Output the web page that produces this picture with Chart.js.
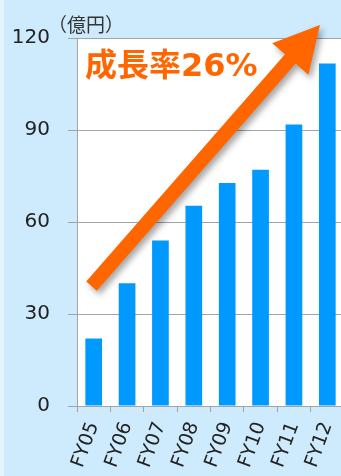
<!DOCTYPE html>
<html>
<head>
<meta charset="utf-8">
<script src="https://cdn.jsdelivr.net/npm/chart.js@4/dist/chart.umd.min.js"></script>
<style>
html,body{margin:0;padding:0;overflow:hidden;background:#cdebfc;width:341px;height:476px;}
#wrap{position:absolute;left:0;top:0;width:344px;height:476px;}
</style>
</head>
<body>
<div id="wrap"><canvas id="c" width="344" height="476"></canvas></div>
<script>
const categories = ["FY05","FY06","FY07","FY08","FY09","FY10","FY11","FY12"];
const sales = [22, 40, 54, 65.3, 72.7, 77, 91.8, 111.7];
const yTicks = [0, 30, 60, 90, 120];
const unitLabel = "（億円）";
const growthLabel = "成長率26%";

const BG = "#cdebfc";
const GRID = "#a3a3a3";
const BAR = "#0099ff";
const ORANGE = "#ff6600";

const decor = {
  id: "decor",
  beforeDraw(chart) {
    const ctx = chart.ctx, a = chart.chartArea;
    ctx.save();
    ctx.fillStyle = BG;
    ctx.fillRect(0, 0, chart.width, chart.height);
    ctx.fillStyle = "#e3f4fd";
    ctx.fillRect(0, 0, 4, chart.height);
    ctx.fillStyle = "#ffffff";
    ctx.fillRect(a.left, a.top, a.right - a.left, a.bottom - a.top);
    ctx.restore();
  },
  afterDraw(chart) {
    const ctx = chart.ctx, a = chart.chartArea;
    const y = chart.scales.y;
    const cw = (a.right - a.left) / categories.length;
    const px = i => a.left + (i + 0.5) * cw;
    ctx.save();
    // unit label
    ctx.fillStyle = "#333333";
    ctx.font = "19px 'Noto Sans CJK JP'";
    ctx.textBaseline = "alphabetic";
    ctx.textAlign = "left";
    ctx.fillText(unitLabel, 48, 32);
    // arrow
    const tx = px(-0.066), ty = y.getPixelForValue(39.1);
    const hx = px(6.78), hy = y.getPixelForValue(124.2);
    const dx = hx - tx, dy = hy - ty, L = Math.hypot(dx, dy);
    const ux = dx / L, uy = dy / L, nx = -uy, ny = ux;
    const hw = 7, headLen = 45, headHalf = 24;
    const bx = hx - ux * headLen, by = hy - uy * headLen;
    ctx.shadowColor = "rgba(0,0,0,0.35)";
    ctx.shadowBlur = 6;
    ctx.shadowOffsetX = 3;
    ctx.shadowOffsetY = 4;
    ctx.fillStyle = ORANGE;
    ctx.beginPath();
    ctx.moveTo(tx + nx * hw, ty + ny * hw);
    ctx.lineTo(bx + nx * hw, by + ny * hw);
    ctx.lineTo(bx + nx * headHalf, by + ny * headHalf);
    ctx.lineTo(hx, hy);
    ctx.lineTo(bx - nx * headHalf, by - ny * headHalf);
    ctx.lineTo(bx - nx * hw, by - ny * hw);
    ctx.lineTo(tx - nx * hw, ty - ny * hw);
    ctx.closePath();
    ctx.fill();
    ctx.shadowColor = "transparent";
    // growth label
    ctx.fillStyle = ORANGE;
    ctx.font = "bold 32px 'DejaVu Sans', 'Noto Sans CJK JP'";
    ctx.fillText(growthLabel, 85, 76);
    ctx.restore();
  }
};

new Chart(document.getElementById("c"), {
  type: "bar",
  data: {
    labels: categories,
    datasets: [{
      data: sales,
      backgroundColor: BAR,
      borderWidth: 0,
      barPercentage: 0.5,
      categoryPercentage: 1.0
    }]
  },
  options: {
    responsive: false,
    animation: false,
    devicePixelRatio: 1,
    layout: { padding: { top: 38, left: 0, right: 0, bottom: 0 } },
    plugins: { legend: { display: false }, tooltip: { enabled: false } },
    scales: {
      x: {
        afterFit: s => { s.height = 70; s.paddingLeft = 0; s.paddingRight = 0; },
        grid: { drawOnChartArea: false, drawTicks: true, tickLength: 6, color: GRID, offset: true },
        border: { display: true, color: GRID, width: 1 },
        ticks: {
          autoSkip: false, minRotation: 70, maxRotation: 70,
          color: "#222222", padding: 7,
          font: { family: "'DejaVu Sans'", size: 19 }
        }
      },
      y: {
        min: 0, max: 120,
        afterFit: s => { s.width = 77; s.paddingTop = 0; s.paddingBottom = 0; },
        afterBuildTicks: s => { s.ticks = yTicks.map(v => ({ value: v })); },
        grid: { color: GRID, tickLength: 9, drawTicks: true },
        border: { display: true, color: GRID, width: 1 },
        ticks: {
          color: "#222222", padding: 18,
          font: { family: "'DejaVu Sans'", size: 20 }
        }
      }
    }
  },
  plugins: [decor]
});
</script>
</body>
</html>
